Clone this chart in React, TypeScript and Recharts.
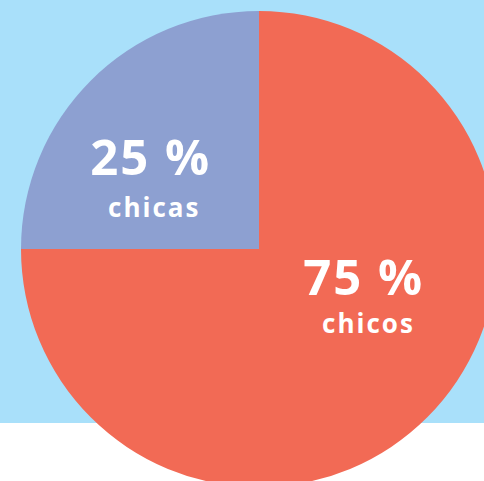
import { PieChart, Pie, Cell } from "recharts";

// ── data ──

const SLICE_NAMES = ["chicos", "chicas"];
const SLICE_VALUES = [75, 25];
const SLICE_COLORS = ["#f26a55", "#8da0d1"];

// label position as fraction of the outer radius, relative to pie center
const LABEL_OFFSETS = [
  { big: [0.44, 0.195], small: [0.46, 0.355] },
  { big: [-0.455, -0.31], small: [-0.44, -0.135] },
];

const data = SLICE_NAMES.map((name, i) => ({ name, value: SLICE_VALUES[i] }));

const FONT = "'Open Sans', 'Noto Sans', sans-serif";

function SliceLabel(props: any) {
  const { cx, cy, outerRadius, index, value, name } = props;
  const off = LABEL_OFFSETS[index];
  if (!off) return null;
  return (
    <g>
      <text
        x={cx + outerRadius * off.big[0]}
        y={cy + outerRadius * off.big[1]}
        textAnchor="middle"
        fill="#ffffff"
        fontFamily={FONT}
        fontWeight={700}
        fontSize={49}
        letterSpacing={2}
      >
        {`${value} %`}
      </text>
      <text
        x={cx + outerRadius * off.small[0]}
        y={cy + outerRadius * off.small[1]}
        textAnchor="middle"
        fill="#ffffff"
        fontFamily={FONT}
        fontWeight={700}
        fontSize={26}
        letterSpacing={2}
      >
        {name}
      </text>
    </g>
  );
}

export default function App() {
  return (
    <div
      style={{
        position: "fixed",
        left: 0,
        top: 0,
        width: 484,
        height: 481,
        background: "linear-gradient(to bottom, #a9e0fa 0px, #a9e0fa 423px, #ffffff 423px)",
      }}
    >
      <PieChart width={484} height={481} margin={{ top: 0, right: 0, bottom: 0, left: 0 }}>
        <Pie
          data={data}
          dataKey="value"
          nameKey="name"
          cx={259}
          cy={249}
          outerRadius={238}
          innerRadius={0}
          startAngle={90}
          endAngle={-270}
          stroke="none"
          label={SliceLabel}
          labelLine={false}
          isAnimationActive={false}
        >
          {data.map((d, i) => (
            <Cell key={d.name} fill={SLICE_COLORS[i]} />
          ))}
        </Pie>
      </PieChart>
    </div>
  );
}
